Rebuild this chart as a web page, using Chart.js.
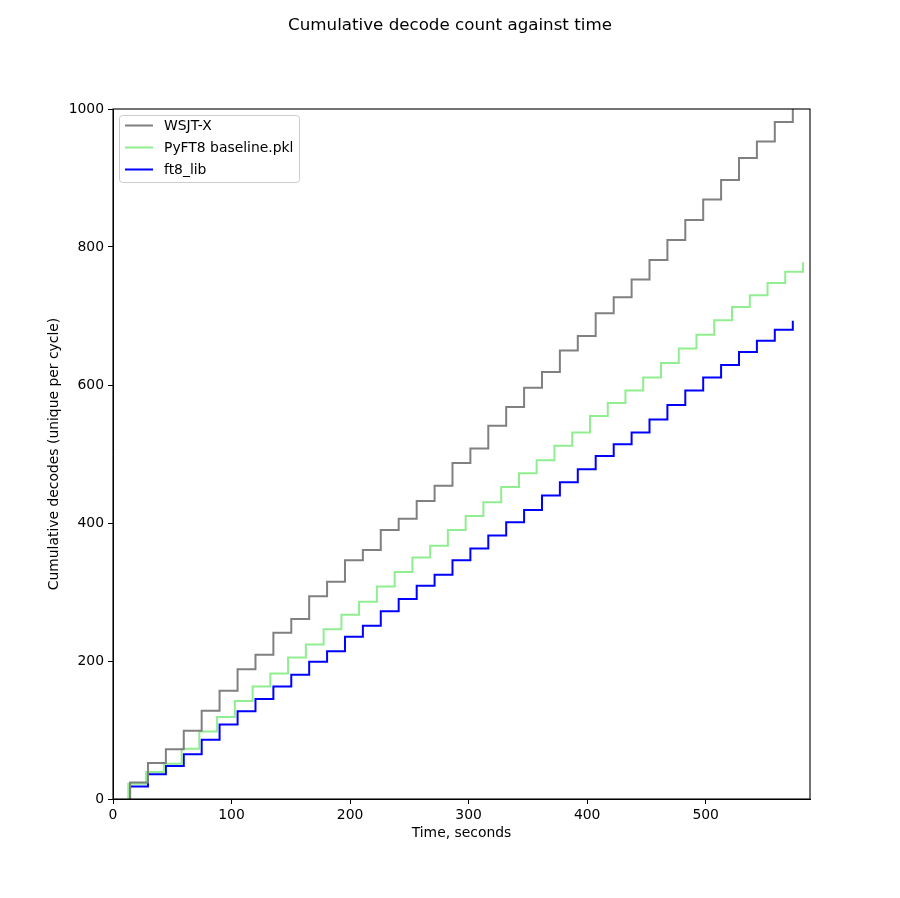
<!DOCTYPE html>
<html><head><meta charset="utf-8">
<script src="https://cdn.jsdelivr.net/npm/chart.js@4/dist/chart.umd.min.js"></script>
<style>html,body{margin:0;padding:0;background:#fff}#wrap{width:900px;height:898px;position:relative}</style>
</head><body><div id="wrap"><canvas id="c" width="900" height="898"></canvas></div>
<script>
// Cycle end times (s) at which each cumulative count steps up
const cycleTimesA = [14.4, 29.5, 44.6, 59.7, 74.8, 89.9, 105.1, 120.2, 135.3, 150.4, 165.5, 180.6, 195.7, 210.8, 225.9, 241.0, 256.2, 271.3, 286.4, 301.5, 316.6, 331.7, 346.8, 361.9, 377.0, 392.1, 407.2, 422.4, 437.5, 452.6, 467.7, 482.8, 497.9, 513.0, 528.1, 543.2, 558.3, 573.5];
const cycleTimesB = [12.9, 27.9, 42.9, 57.9, 72.8, 87.8, 102.8, 117.8, 132.7, 147.7, 162.7, 177.7, 192.7, 207.6, 222.6, 237.6, 252.6, 267.6, 282.5, 297.5, 312.5, 327.5, 342.5, 357.4, 372.4, 387.4, 402.4, 417.4, 432.3, 447.3, 462.3, 477.3, 492.2, 507.2, 522.2, 537.2, 552.2, 567.1, 582.1];

const wsjtxCounts = [24, 52, 72, 99, 128, 157, 188, 209, 241, 261, 294, 315, 346, 361, 390, 406, 432, 454, 487, 508, 541, 568, 596, 619, 650, 671, 704, 727, 753, 781, 810, 839, 869, 897, 929, 953, 981, 1000];
const pyft8Counts = [22, 39, 51, 73, 98, 119, 142, 163, 182, 205, 224, 246, 267, 286, 308, 329, 350, 367, 390, 410, 430, 452, 472, 491, 512, 531, 555, 574, 592, 611, 632, 653, 673, 694, 713, 730, 748, 764, 778];
const ft8libCounts = [18, 36, 48, 65, 86, 108, 127, 145, 163, 180, 199, 214, 235, 251, 272, 290, 309, 325, 346, 363, 382, 401, 419, 440, 459, 478, 497, 514, 531, 550, 571, 592, 611, 629, 648, 664, 680, 693];

const seriesNames = ['WSJT-X', 'PyFT8 baseline.pkl', 'ft8_lib'];
const seriesColors = ['#808080', '#90ee90', '#0000ff'];
const xTickValues = [0, 100, 200, 300, 400, 500];
const yTickValues = [0, 200, 400, 600, 800, 1000];
const chartTitle = 'Cumulative decode count against time';
const xTitle = 'Time, seconds';
const yTitle = 'Cumulative decodes (unique per cycle)';

function toSteps(times, counts) {
  const pts = [{x: times[0], y: 0}];
  times.forEach((t, i) => pts.push({x: t, y: counts[i]}));
  return pts;
}

const FONT = 'DejaVu Sans';
Chart.defaults.color = '#000';
Chart.defaults.font.family = FONT;

const framePlugin = {
  id: 'frame',
  afterDatasetsDraw(chart) {
    const {ctx, chartArea: a} = chart;
    ctx.save();
    ctx.strokeStyle = '#000';
    ctx.lineWidth = 1.1;
    ctx.strokeRect(a.left, a.top, a.right - a.left, a.bottom - a.top);
    // legend
    const bx = 119.5, by = 115.5, bw = 180, bh = 67, r = 3;
    ctx.beginPath();
    ctx.moveTo(bx + r, by);
    ctx.lineTo(bx + bw - r, by); ctx.quadraticCurveTo(bx + bw, by, bx + bw, by + r);
    ctx.lineTo(bx + bw, by + bh - r); ctx.quadraticCurveTo(bx + bw, by + bh, bx + bw - r, by + bh);
    ctx.lineTo(bx + r, by + bh); ctx.quadraticCurveTo(bx, by + bh, bx, by + bh - r);
    ctx.lineTo(bx, by + r); ctx.quadraticCurveTo(bx, by, bx + r, by);
    ctx.closePath();
    ctx.fillStyle = 'rgba(255,255,255,0.8)';
    ctx.fill();
    ctx.strokeStyle = '#cccccc';
    ctx.lineWidth = 1;
    ctx.stroke();
    ctx.font = '13.9px "' + FONT + '"';
    ctx.textBaseline = 'middle';
    ctx.textAlign = 'left';
    const ys = [125.5, 147.5, 169.5];
    seriesNames.forEach((n, i) => {
      ctx.beginPath();
      ctx.strokeStyle = seriesColors[i];
      ctx.lineWidth = 2;
      ctx.moveTo(125, ys[i]); ctx.lineTo(153, ys[i]);
      ctx.stroke();
      ctx.fillStyle = '#000';
      ctx.fillText(n, 164, ys[i] + 1);
    });
    // title
    ctx.font = '16.7px "' + FONT + '"';
    ctx.textAlign = 'center';
    ctx.fillText(chartTitle, 450, 26);
    ctx.restore();
  }
};

new Chart(document.getElementById('c'), {
  type: 'line',
  data: {
    datasets: [
      {label: seriesNames[0], data: toSteps(cycleTimesA, wsjtxCounts), borderColor: seriesColors[0]},
      {label: seriesNames[1], data: toSteps(cycleTimesB, pyft8Counts), borderColor: seriesColors[1]},
      {label: seriesNames[2], data: toSteps(cycleTimesA, ft8libCounts), borderColor: seriesColors[2]}
    ].map(d => Object.assign(d, {stepped: true, borderWidth: 2, pointRadius: 0, fill: false, tension: 0}))
  },
  options: {
    responsive: false,
    animation: false,
    devicePixelRatio: 1,
    layout: {padding: {left: 0, top: 109, right: 90, bottom: 0}},
    plugins: {legend: {display: false}, tooltip: {enabled: false}},
    scales: {
      x: {
        type: 'linear', min: 0, max: 588,
        afterBuildTicks: s => { s.ticks = xTickValues.map(v => ({value: v})); },
        afterFit: s => { s.height = 99; },
        grid: {drawOnChartArea: false, drawTicks: true, tickLength: 5, color: '#000', lineWidth: 1},
        border: {display: true, color: '#000', width: 1},
        ticks: {font: {size: 13.9}, padding: 3, maxRotation: 0, color: '#000', callback: v => String(v)},
        title: {display: true, text: xTitle, font: {size: 13.9}, padding: {top: 0, bottom: 56}, color: '#000'}
      },
      y: {
        type: 'linear', min: 0, max: 1000,
        afterBuildTicks: s => { s.ticks = yTickValues.map(v => ({value: v})); },
        afterFit: s => { s.width = 113; },
        grid: {drawOnChartArea: false, drawTicks: true, tickLength: 5, color: '#000', lineWidth: 1},
        border: {display: true, color: '#000', width: 1},
        ticks: {font: {size: 13.9}, padding: 4, color: '#000', callback: v => String(v)},
        title: {display: true, text: yTitle, font: {size: 13.9}, padding: {top: 46, bottom: 0}, color: '#000'}
      }
    }
  },
  plugins: [framePlugin]
});
</script>
</body></html>
